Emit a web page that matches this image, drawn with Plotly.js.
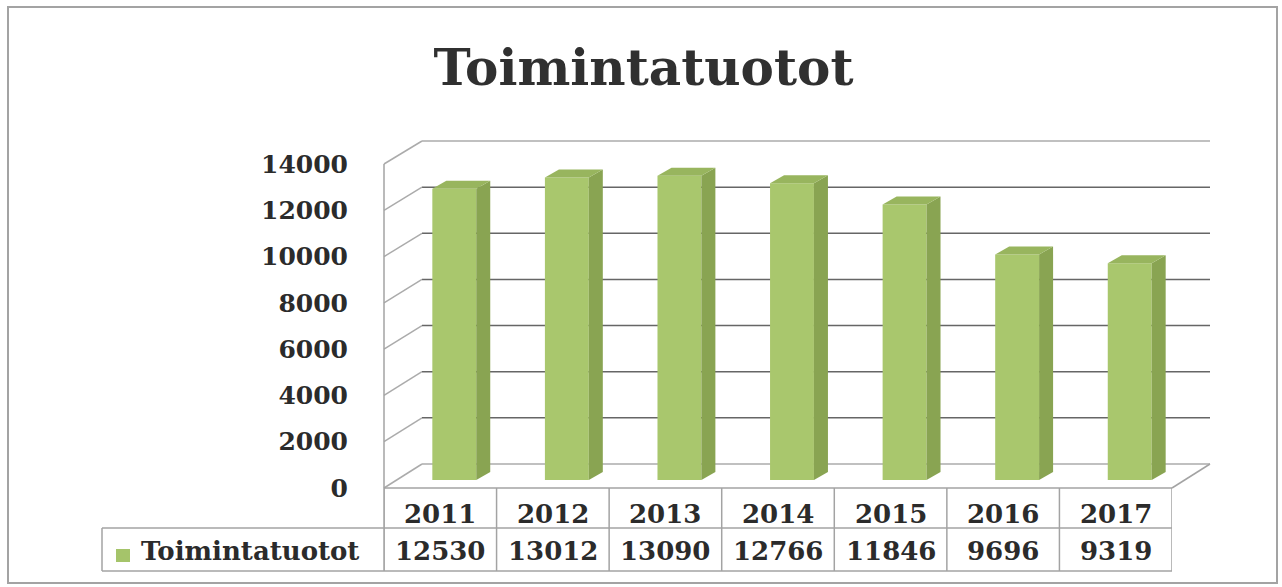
<!DOCTYPE html>
<html><head><meta charset="utf-8">
<script src="https://cdn.plot.ly/plotly-3.0.1.min.js"></script>
<style>html,body{margin:0;padding:0;background:#fff;} #chart{width:1282px;height:587px;}</style>
</head><body><div id="chart"></div>
<script>
// ---- data ----
const chartTitle = 'Toimintatuotot';
const seriesName = 'Toimintatuotot';
const years = ['2011', '2012', '2013', '2014', '2015', '2016', '2017'];
const values = [12530, 13012, 13090, 12766, 11846, 9696, 9319];
const yTicks = [0, 2000, 4000, 6000, 8000, 10000, 12000, 14000];

// ---- geometry helpers (pixels -> paper) ----
const W = 1282, H = 587;
const px = x => x / W;
const py = y => (H - y) / H;
const YMAX = 14000;
const FRONT = {x0: 384, x1: 1172, yb: 488, yt: 164};
const BACK = {x0: 422, x1: 1210, yb: 464, yt: 141};
const BARS = {x0: 398, x1: 1186, yb: 480, yt: 480 - 325.5};
const frontY = v => FRONT.yb - (FRONT.yb - FRONT.yt) * v / YMAX;
const backY = v => BACK.yb - (BACK.yb - BACK.yt) * v / YMAX;
const TABLE = {left: 102, mid: 528, bottom: 571, yearY: 514, valY: 551};

const FONT = 'DejaVu Serif';
const TXT = '#2b2b2b';
const FRONT_COL = '#a9c76d', SIDE_COL = '#89a452', TOP_COL = '#98b55e';

const idx = years.map((_, i) => i);
const catPx = (BARS.x1 - BARS.x0) / years.length;
const ddx = 14 / catPx;                          // bar depth (category units)
const ddy = 8 / ((BARS.yb - BARS.yt) / YMAX);    // bar depth (data units)
const hw = 0.195;                                // half bar width

const traces = [];
// invisible trace on front axes so the subplot is created
traces.push({type: 'scatter', mode: 'none', x: idx, y: values, xaxis: 'x', yaxis: 'y',
  hoverinfo: 'skip', showlegend: false});
// bars front faces
traces.push({type: 'bar', x: idx, y: values, width: 2 * hw, xaxis: 'x2', yaxis: 'y2',
  marker: {color: FRONT_COL, line: {width: 0}}, name: seriesName, showlegend: false,
  hoverinfo: 'y'});
// side and top faces
values.forEach((v, i) => {
  traces.push({type: 'scatter', mode: 'lines', fill: 'toself', fillcolor: SIDE_COL,
    line: {width: 0, color: SIDE_COL}, xaxis: 'x2', yaxis: 'y2', hoverinfo: 'skip', showlegend: false,
    x: [i + hw, i + hw + ddx, i + hw + ddx, i + hw, i + hw],
    y: [0, ddy, v + ddy, v, 0]});
  traces.push({type: 'scatter', mode: 'lines', fill: 'toself', fillcolor: TOP_COL,
    line: {width: 0, color: TOP_COL}, xaxis: 'x2', yaxis: 'y2', hoverinfo: 'skip', showlegend: false,
    x: [i - hw, i - hw + ddx, i + hw + ddx, i + hw, i - hw],
    y: [v, v + ddy, v + ddy, v, v]});
});

// ---- shapes ----
const shapes = [];
const line = (x0, y0, x1, y1, color, width) => shapes.push({type: 'line', xref: 'paper', yref: 'paper',
  x0: px(x0), y0: py(y0), x1: px(x1), y1: py(y1), layer: 'below', line: {color: color, width: width}});
// outer border
shapes.push({type: 'rect', xref: 'paper', yref: 'paper', x0: px(8), y0: py(583), x1: px(1277), y1: py(7),
  line: {color: '#a3a3a3', width: 2}, layer: 'below'});
// back wall gridlines + left wall diagonals
yTicks.forEach(v => {
  const edge = (v === 0 || v === YMAX);
  line(BACK.x0, backY(v), BACK.x1, backY(v), edge ? '#ababab' : '#666666', 1.5);
  line(FRONT.x0, frontY(v), BACK.x0, backY(v), '#ababab', 1.5);
});
// left wall front edge
line(FRONT.x0, frontY(YMAX), FRONT.x0, TABLE.bottom, '#a3a3a3', 1.5);
// floor front and right edges
line(FRONT.x0, FRONT.yb, FRONT.x1, FRONT.yb, '#a3a3a3', 1.5);
line(FRONT.x1, FRONT.yb, BACK.x1, BACK.yb, '#a3a3a3', 1.5);
// data table grid
line(TABLE.left, TABLE.mid, FRONT.x1, TABLE.mid, '#a3a3a3', 1.5);
line(TABLE.left, TABLE.bottom, FRONT.x1, TABLE.bottom, '#a3a3a3', 1.5);
line(TABLE.left, TABLE.mid, TABLE.left, TABLE.bottom, '#a3a3a3', 1.5);
for (let i = 0; i <= years.length; i++) {
  shapes.push({type: 'line', xref: 'x', yref: 'paper', x0: i - 0.5, x1: i - 0.5,
    y0: py(FRONT.yb), y1: py(TABLE.bottom), layer: 'below', line: {color: '#a3a3a3', width: 1.5}});
}
// legend key
shapes.push({type: 'rect', xref: 'paper', yref: 'paper', x0: px(116), x1: px(130), y0: py(562), y1: py(549),
  fillcolor: '#a5c46a', line: {width: 0}});

// ---- annotations ----
const annotations = [];
const tfont = {family: FONT, size: 26, color: TXT, weight: 'bold'};
years.forEach((yr, i) => {
  annotations.push({xref: 'x', yref: 'paper', x: i, y: py(TABLE.yearY), text: yr, showarrow: false,
    xanchor: 'center', yanchor: 'middle', font: tfont});
  annotations.push({xref: 'x', yref: 'paper', x: i, y: py(TABLE.valY), text: String(values[i]), showarrow: false,
    xanchor: 'center', yanchor: 'middle', font: tfont});
});
annotations.push({xref: 'paper', yref: 'paper', x: px(139), y: py(TABLE.valY), text: seriesName, showarrow: false,
  xanchor: 'left', yanchor: 'middle', font: tfont});

const layout = {
  width: W, height: H,
  margin: {l: 0, r: 0, t: 0, b: 0},
  paper_bgcolor: '#ffffff', plot_bgcolor: 'rgba(0,0,0,0)',
  showlegend: false,
  title: {text: '<b>' + chartTitle + '</b>', x: 0.502, xref: 'paper', xanchor: 'center',
    y: py(67), yref: 'container', yanchor: 'middle',
    font: {family: FONT, size: 50, color: '#303030'}},
  xaxis: {domain: [px(FRONT.x0), px(FRONT.x1)], range: [-0.5, years.length - 0.5], visible: false, anchor: 'y', fixedrange: true},
  yaxis: {domain: [py(FRONT.yb), py(FRONT.yt)], range: [0, YMAX], anchor: 'x',
    tickvals: yTicks, ticktext: yTicks.map(String), showgrid: false, zeroline: false, showline: false,
    ticks: 'outside', ticklen: 30, tickcolor: 'rgba(0,0,0,0)',
    tickfont: {family: FONT, size: 25, color: TXT, weight: 'bold'}, fixedrange: true},
  xaxis2: {domain: [px(BARS.x0), px(BARS.x1)], range: [-0.5, years.length - 0.5], visible: false, anchor: 'y2', fixedrange: true},
  yaxis2: {domain: [py(BARS.yb), py(BARS.yt)], range: [0, YMAX], visible: false, anchor: 'x2', fixedrange: true},
  shapes: shapes,
  annotations: annotations
};

Plotly.newPlot('chart', traces, layout, {displayModeBar: false, staticPlot: true});
</script>
</body></html>
